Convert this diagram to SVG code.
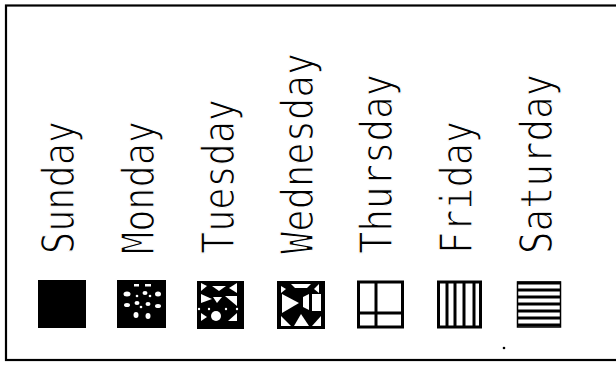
<svg xmlns="http://www.w3.org/2000/svg" width="616" height="365" viewBox="0 0 616 365">
<style>
.lbl{font-family:"DejaVu Sans Mono","Liberation Mono",monospace;font-size:44px;fill:#000;stroke:#fff;stroke-width:1.3}
.frame{fill:none;stroke:#000;stroke-width:3}
.ln{stroke:#000;stroke-width:3;fill:none}
.w{fill:#fff}
</style>
<rect x="6" y="5.5" width="620" height="354.5" fill="none" stroke="#000" stroke-width="2.2"/>
<g id="sunday">
<text class="lbl" transform="translate(74,254) rotate(-90)" textLength="133" lengthAdjust="spacingAndGlyphs">Sunday</text>
<rect x="38" y="280" width="48" height="48" fill="#000"/>
</g>
<g id="monday">
<text class="lbl" transform="translate(154,254) rotate(-90)" textLength="133" lengthAdjust="spacingAndGlyphs">Monday</text>
<rect x="117" y="280" width="49" height="48" fill="#000"/>
<g class="w">
<rect x="134" y="284" width="5" height="2.5"/><rect x="145" y="284" width="6" height="2.5"/>
<ellipse cx="127" cy="294" rx="3.5" ry="2.5"/><circle cx="137" cy="296" r="1.3"/><ellipse cx="145" cy="293" rx="2.5" ry="2"/><circle cx="150" cy="296" r="1.3"/><ellipse cx="158" cy="294" rx="3" ry="2.5"/>
<ellipse cx="127" cy="305" rx="3" ry="2"/><ellipse cx="137" cy="303" rx="2.5" ry="2"/><circle cx="141" cy="307" r="1.3"/><ellipse cx="148" cy="304" rx="2.5" ry="2"/><ellipse cx="158" cy="306" rx="3" ry="2"/>
<ellipse cx="136" cy="315" rx="2.5" ry="3"/><ellipse cx="148" cy="316" rx="2.5" ry="3"/>
</g>
</g>
<g id="tuesday">
<text class="lbl" transform="translate(234,254) rotate(-90)" textLength="155" lengthAdjust="spacingAndGlyphs">Tuesday</text>
<rect x="197" y="281" width="47" height="48" fill="#000"/>
<g class="w">
<polygon points="201,283 207,286 201,291"/>
<polygon points="212,286 226,286 219,291"/>
<polygon points="237,283 229,288 237,293"/>
<polygon points="201,294 212,299 201,303"/>
<polygon points="213,297 222,297 217,303"/>
<polygon points="237,296 225,296 237,306"/>
<circle cx="199" cy="309" r="1.2"/><circle cx="209" cy="309" r="1.2"/><circle cx="226" cy="309" r="1.2"/><circle cx="237" cy="309" r="1.2"/>
<circle cx="216" cy="316" r="5"/>
<polygon points="201,313 207,317 201,321"/>
<polygon points="237,313 228,321 237,321"/>
</g>
</g>
<g id="wednesday">
<text class="lbl" transform="translate(313,254) rotate(-90)" textLength="201" lengthAdjust="spacingAndGlyphs">Wednesday</text>
<rect x="277" y="281" width="48" height="48" fill="#000"/>
<g class="w">
<polygon points="291,284 311,284 307,288 295,288"/>
<polygon points="281,286 286,289 281,293"/>
<polygon points="319,284 314,289 319,293"/>
<polygon points="282,294 299,303 282,313"/>
<polygon points="303,297 309,294 309,310 303,307"/>
<rect x="312" y="294" width="9" height="17"/>
<polygon points="281,316 291,326 281,326"/>
<polygon points="301,314 309,326 294,326"/>
<polygon points="321,316 312,326 321,326"/>
</g>
</g>
<g id="thursday">
<text class="lbl" transform="translate(392,254) rotate(-90)" textLength="180" lengthAdjust="spacingAndGlyphs">Thursday</text>
<rect class="frame" x="358.5" y="282" width="44" height="45"/>
<line class="ln" x1="376" y1="282" x2="376" y2="327"/>
<line class="ln" x1="358.5" y1="313" x2="402.5" y2="313"/>
</g>
<g id="friday">
<text class="lbl" transform="translate(472,254) rotate(-90)" textLength="133" lengthAdjust="spacingAndGlyphs">Friday</text>
<rect class="frame" x="438.5" y="282" width="42" height="45"/>
<line class="ln" x1="447" y1="282" x2="447" y2="327"/>
<line class="ln" x1="455" y1="282" x2="455" y2="327"/>
<line class="ln" x1="464" y1="282" x2="464" y2="327"/>
<line class="ln" x1="474" y1="282" x2="474" y2="327"/>
</g>
<g id="saturday">
<text class="lbl" transform="translate(552,254) rotate(-90)" textLength="180" lengthAdjust="spacingAndGlyphs">Saturday</text>
<rect x="517.5" y="282" width="43" height="45" fill="none" stroke="#000" stroke-width="1.5"/>
<line class="ln" x1="517" y1="283" x2="561" y2="283"/>
<line class="ln" x1="517" y1="290" x2="561" y2="290"/>
<line class="ln" x1="517" y1="297" x2="561" y2="297"/>
<line class="ln" x1="517" y1="304" x2="561" y2="304"/>
<line class="ln" x1="517" y1="311" x2="561" y2="311"/>
<line class="ln" x1="517" y1="318" x2="561" y2="318"/>
<line class="ln" x1="517" y1="325" x2="561" y2="325"/>
</g>
<circle cx="504" cy="348" r="1.3" fill="#000"/>
</svg>
